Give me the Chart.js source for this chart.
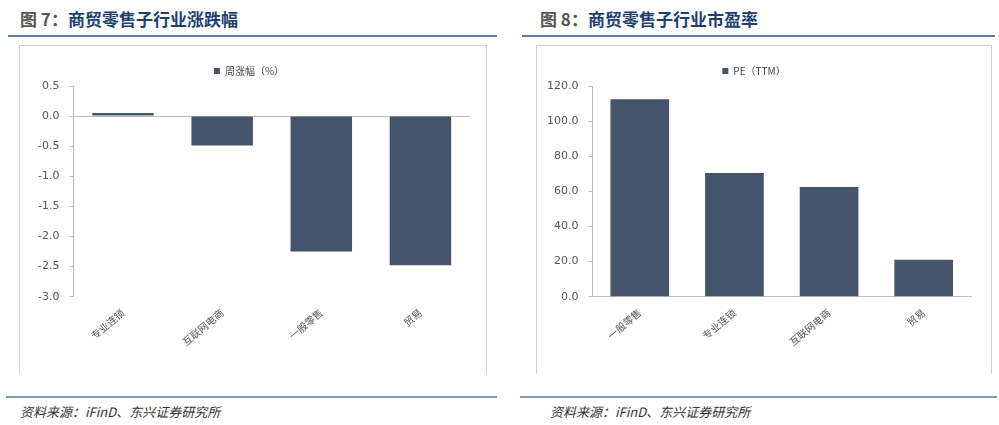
<!DOCTYPE html>
<html><head><meta charset="utf-8">
<script src="https://cdn.jsdelivr.net/npm/chart.js@4/dist/chart.umd.min.js"></script>
<style>
body{margin:0;width:999px;height:425px;background:#fff;font-family:"Noto Sans CJK SC",sans-serif;position:relative;overflow:hidden}
.t{position:absolute;top:6px;font-size:17px;font-weight:bold;color:#1f3f6e}
.t span{color:#555}
.hl{position:absolute;top:35px;height:2px;background:#5a7fa3}
.fl{position:absolute;top:396px;height:2px;background:#7a9bbb}
.src{position:absolute;top:402px;font-size:13px;font-style:italic;color:#333}
.box{position:absolute;top:45px;height:328px;border:1px solid #d0d0d0;border-bottom:none}
canvas{position:absolute}
</style></head><body>
<div class="t" style="left:20px"><span>图 7：</span>商贸零售子行业涨跌幅</div>
<div class="t" style="left:540px"><span>图 8：</span>商贸零售子行业市盈率</div>
<div class="hl" style="left:8px;width:489px"></div>
<div class="hl" style="left:522px;width:473px"></div>
<div class="box" style="left:19px;width:466px"></div>
<div class="box" style="left:536px;width:454px"></div>
<div class="fl" style="left:6px;width:491px"></div>
<div class="fl" style="left:520px;width:477px"></div>
<div class="src" style="left:20px">资料来源：iFinD、东兴证券研究所</div>
<div class="src" style="left:550px">资料来源：iFinD、东兴证券研究所</div>
<canvas id="c1" style="left:20px;top:46px;width:464px;height:326px" width="464" height="326"></canvas>
<canvas id="c2" style="left:537px;top:46px;width:452px;height:326px" width="452" height="326"></canvas>
<script>
const cats1=["专业连锁","互联网电商","一般零售","贸易"];
const vals1=[0.05,-0.49,-2.25,-2.48];
const cats2=["一般零售","专业连锁","互联网电商","贸易"];
const vals2=[112.5,70.5,62.5,21.0];
const ticks1=[0.5,0,-0.5,-1,-1.5,-2,-2.5,-3];
const ticks2=[0,20,40,60,80,100,120];
const C="#44546a";
const font={family:"Noto Sans CJK SC",size:10};
function mk(id,cats,vals,name,min,max,step,zero,padL,padR){
 new Chart(document.getElementById(id),{type:'bar',
  data:{labels:cats,datasets:[{label:name,data:vals,backgroundColor:C,barPercentage:0.62,categoryPercentage:1}]},
  options:{responsive:false,animation:false,
   layout:{padding:{left:padL,right:padR,top:4,bottom:14}},
   plugins:{legend:{labels:{boxWidth:6,boxHeight:6,color:'#444',font:font,padding:16}},tooltip:{enabled:false}},
   scales:{
    x:{grid:{display:false,drawTicks:false},border:{display:!zero,color:'#bbb'},
       ticks:{color:'#555',font:font,minRotation:40,maxRotation:40,padding:10}},
    y:{min:min,max:max,ticks:{stepSize:step,color:'#555',font:{family:"DejaVu Sans",size:11},padding:10,
        callback:v=>v.toFixed(1)},
       border:{color:'#bbb'},
       grid:{drawOnChartArea:zero,drawTicks:true,tickLength:4,tickColor:'#bbb',
         color:c=>(zero&&c.tick&&c.tick.value===0)?'#bbb':'rgba(0,0,0,0)',
         lineWidth:1}}
   }}});
}
mk('c1',cats1,vals1,'周涨幅（%）',-3,0.5,0.5,true,8,14);
mk('c2',cats2,vals2,'PE（TTM）',0,120,20,false,0,18);
</script>
</body></html>
